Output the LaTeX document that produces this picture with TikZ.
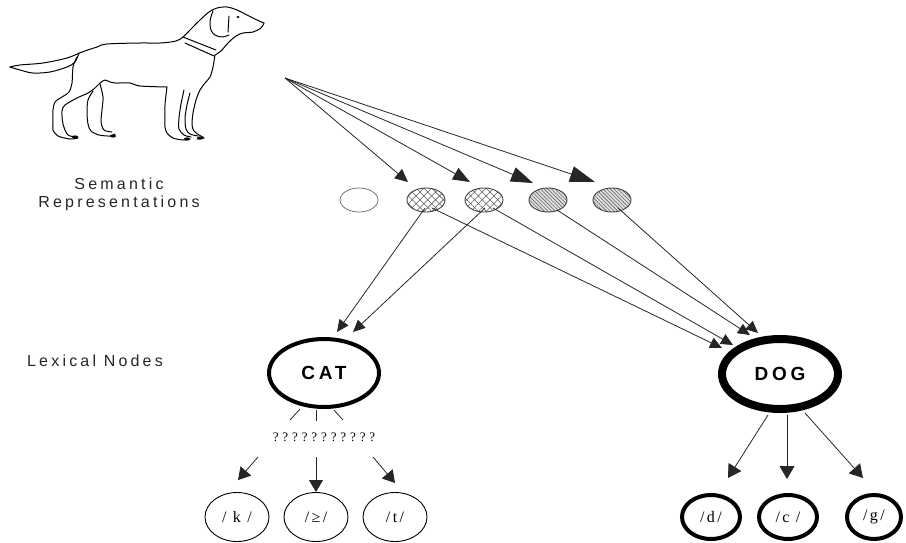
\documentclass[tikz,border=0pt]{standalone}
\usepackage{fontspec}
\setmainfont{Liberation Serif}
\newfontfamily\lblfont[LetterSpace=20]{Liberation Sans}
\newfontfamily\wordfont[LetterSpace=20]{Liberation Sans}
\newfontfamily\qfont[LetterSpace=30]{Liberation Serif}
\newfontfamily\phonfont[LetterSpace=15]{Liberation Serif}
\usetikzlibrary{arrows.meta,shapes.geometric,patterns.meta}
\begin{document}
\begin{tikzpicture}[x=1pt,y=-1pt,
  dogline/.style={line width=1pt, line cap=round, line join=round},
  sem/.style={ellipse, minimum width=38pt, minimum height=24pt, inner sep=0pt, draw=black!75, line width=0.9pt},
  plainsem/.style={sem, draw=black!60, line width=0.7pt},
  crosssem/.style={sem, pattern={Lines[angle=45,distance=5.5pt,line width=0.6pt]}, pattern color=black!65,
     preaction={pattern={Lines[angle=-45,distance=5.5pt,line width=0.6pt]}, pattern color=black!65}},
  stripesem/.style={sem, preaction={fill=black!12}, pattern={Lines[angle=-45,distance=2.6pt,line width=0.6pt]}, pattern color=black!60},
  lexnode/.style={ellipse, draw, inner sep=0pt, font=\wordfont\bfseries\fontsize{19}{20}\selectfont},
  phon/.style={ellipse, draw, inner sep=0pt, font=\phonfont\fontsize{16}{17}\selectfont},
  label/.style={font=\lblfont\fontsize{16}{17}\selectfont, align=center, inner sep=0pt, text=black!85},
  conn/.style={line width=0.8pt, draw=black!85},
]
\useasboundingbox (0,0) rectangle (906,542);

% ---------- dog drawing ----------
\draw[dogline] plot[smooth, tension=0.55] coordinates {(10,67) (20,65) (43,63) (67,58) (82,52) (97,47) (107,44) (140,43) (160,43) (176,41) (183,37) (190,30) (200,20) (209,12) (217,8) (227,7) (237,10) (247,15) (257,20) (264,23)};
\draw[dogline] plot[smooth, tension=0.55] coordinates {(264,23) (261,28) (253,32) (243,33) (236,36) (228,43) (221,51) (215,55)};
\draw[dogline] plot[smooth, tension=0.55] coordinates {(10,67) (20,70) (33,73) (50,72) (67,67) (75,62) (79,53)};
\draw[dogline] plot[smooth, tension=0.5] coordinates {(77,57) (73,67) (72,83) (69,92) (62,97) (55,102) (53,110) (53,123) (53,130) (58,136) (70,139) (78,138)};
\draw[dogline] plot[smooth, tension=0.5] coordinates {(78,137) (68,135) (63,124) (62,111) (65,105) (77,98) (88,93) (95,88) (100,83) (105,80) (110,82) (116,83) (130,83) (140,86) (167,87)};
\draw[dogline] plot[smooth, tension=0.5] coordinates {(93,91) (88,100) (87,112) (88,124) (91,131) (99,135) (110,136) (115,134)};
\draw[dogline] plot[smooth, tension=0.5] coordinates {(100,84) (103,97) (102,110) (101,122) (104,130) (112,132)};
\draw[dogline] plot[smooth, tension=0.5] coordinates {(167,87) (166,95) (165,105) (165,118) (165,127) (167,133) (173,138) (183,140) (190,139)};
\draw[dogline] plot[smooth, tension=0.5] coordinates {(184,90) (181,104) (179,118) (179,129) (184,135) (191,137)};
\draw[dogline] plot[smooth, tension=0.5] coordinates {(190,93) (187,105) (185,118) (186,129) (190,134) (198,136)};
\draw[dogline] plot[smooth, tension=0.5] coordinates {(215,55) (213,67) (210,77) (205,83) (200,90) (196,100) (193,113) (192,125) (194,131) (199,135) (204,138) (197,139)};
\draw[dogline] (183,37) -- (216,50);
\draw[dogline] (185,43) -- (214,56);
\draw[dogline] plot[smooth, tension=0.6] coordinates {(213,11) (210,21) (211,30) (215,35) (222,37) (229,35)};
\draw[dogline] (229,16) -- (228,32);
\fill (238,17) ellipse [x radius=1.6, y radius=1.1];
\fill (75,137) ellipse [x radius=3, y radius=1.6];
\fill (113,136) ellipse [x radius=3, y radius=1.6];
\fill (187,139) ellipse [x radius=3, y radius=1.6];
\fill (200,138) ellipse [x radius=3, y radius=1.6];

% ---------- labels ----------
\node[label] (semlbl) at (119,194) {Semantic\\[1pt]Representations};
\node[label] (lexlbl) at (95,361) {Lexical Nodes};

% ---------- semantic units ----------
\coordinate (src) at (285,78);
\node[plainsem]  (e1) at (359,200) {};
\node[crosssem]  (e2) at (426,200) {};
\node[crosssem]  (e3) at (484,200) {};
\node[stripesem] (e4) at (548,200) {};
\node[stripesem] (e5) at (612,200) {};

\draw[conn, -{Triangle[length=13pt,width=12pt]}] (src) -- ([shift={(-18,-18)}]e2.center);
\draw[conn, -{Triangle[length=17pt,width=13pt]}] (src) -- ([shift={(-14,-18)}]e3.center);
\draw[conn, -{Triangle[length=22pt,width=15pt]}] (src) -- ([shift={(-15,-17)}]e4.center);
\draw[conn, -{Triangle[length=25pt,width=16pt]}] (src) -- ([shift={(-17,-18)}]e5.center);

% ---------- lexical nodes ----------
\node[lexnode, minimum width=110pt, minimum height=68pt, line width=4pt] (cat) at (324,373) {CAT};
\node[lexnode, minimum width=116pt, minimum height=70pt, line width=8pt] (dog) at (780,374) {DOG};

\draw[conn, -{Triangle[length=12pt,width=11pt]}] ([shift={(-1,8)}]e2.center) -- ([shift={(13,-41)}]cat.center);
\draw[conn, -{Triangle[length=12pt,width=11pt]}] ([shift={(1,8)}]e3.center) -- ([shift={(29,-41)}]cat.center);
\draw[conn, -{Triangle[length=12pt,width=11pt]}] ([shift={(6,8)}]e2.center) -- ([shift={(-58,-26)}]dog.center);
\draw[conn, -{Triangle[length=12pt,width=11pt]}] ([shift={(9,8)}]e3.center) -- ([shift={(-47,-29)}]dog.center);
\draw[conn, -{Triangle[length=12pt,width=11pt]}] ([shift={(9,10)}]e4.center) -- ([shift={(-30,-39)}]dog.center);
\draw[conn, -{Triangle[length=12pt,width=11pt]}] ([shift={(6,8)}]e5.center) -- ([shift={(-22,-41)}]dog.center);

% ---------- CAT phonology ----------
\node[font=\qfont\fontsize{13}{14}\selectfont, inner sep=0pt] (qm) at (324,437) {???????????};
\draw[conn] ([shift={(-34,47)}]cat.center) -- ([shift={(-24,36)}]cat.center);
\draw[conn] ([shift={(-8,37)}]cat.center) -- ([shift={(-8,48)}]cat.center);
\draw[conn] ([shift={(10,37)}]cat.center) -- ([shift={(19,47)}]cat.center);

\node[phon, minimum width=64pt, minimum height=49pt, line width=0.9pt] (pk) at (237,517) {/ k /};
\node[phon, minimum width=64pt, minimum height=49pt, line width=0.9pt] (pae) at (316,517) {/≥/};
\node[phon, minimum width=64pt, minimum height=49pt, line width=0.9pt] (pt) at (395,517) {/t/};

\draw[conn, -{Triangle[length=12pt,width=14pt]}] ([shift={(-66,20)}]qm.center) -- ([shift={(1,-37)}]pk.center);
\draw[conn, -{Triangle[length=12pt,width=14pt]}] ([shift={(-8,20)}]qm.center) -- ([shift={(0,-25)}]pae.center);
\draw[conn, -{Triangle[length=12pt,width=14pt]}] ([shift={(49,20)}]qm.center) -- ([shift={(0,-34)}]pt.center);

% ---------- DOG phonology ----------
\node[phon, minimum width=58pt, minimum height=44pt, line width=4pt] (pd) at (711,517) {/d/};
\node[phon, minimum width=58pt, minimum height=44pt, line width=4pt] (pc) at (788,517) {/c /};
\node[phon, minimum width=54pt, minimum height=44pt, line width=4pt] (pg) at (874,517) {/g/};

\draw[conn, -{Triangle[length=13pt,width=15pt]}] ([shift={(-12,41)}]dog.center) -- ([shift={(17,-39)}]pd.center);
\draw[conn, -{Triangle[length=13pt,width=15pt]}] ([shift={(7,41)}]dog.center) -- ([shift={(-1,-38)}]pc.center);
\draw[conn, -{Triangle[length=13pt,width=15pt]}] ([shift={(25,39)}]dog.center) -- ([shift={(-11,-39)}]pg.center);
\end{tikzpicture}
\end{document}
